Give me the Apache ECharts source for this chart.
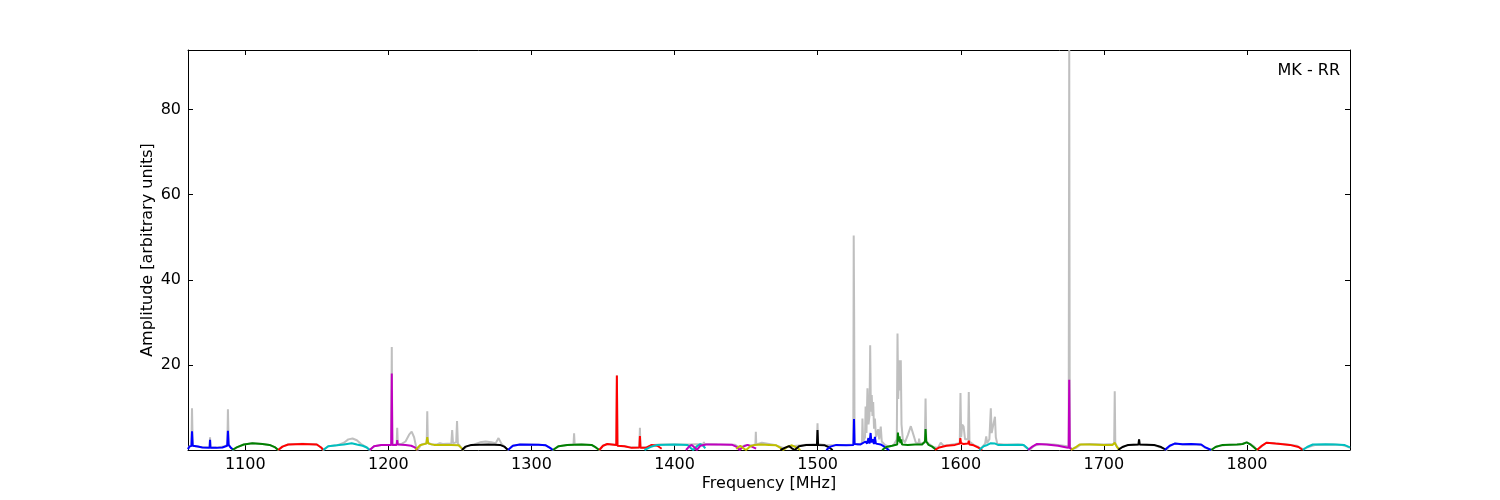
<!DOCTYPE html>
<html>
<head>
<meta charset="utf-8">
<script src="https://cdn.jsdelivr.net/npm/echarts@6/dist/echarts.min.js"></script>
<style>html,body{margin:0;padding:0;background:#fff;}#c{width:1500px;height:500px;}</style>
</head>
<body>
<div id="c"></div>
<script>
// ---- data (frequency MHz, amplitude) ----
const xTicks = [1100, 1200, 1300, 1400, 1500, 1600, 1700, 1800];
const yTicks = [20, 40, 60, 80];
const segColors = ['#0000ff', '#008000', '#ff0000', '#00bfbf', '#bf00bf', '#bfbf00', '#000000'];

const raw = [
[1060,0.3],[1061,0.9],[1062.4,1.0],[1062.8,9.8],[1063.3,1.0],[1068,0.7],[1075.1,0.6],[1075.4,3.0],[1075.7,0.6],[1080,0.6],[1085,0.8],[1087.5,1.2],[1087.9,9.6],[1088.4,1.2],[1090,0.5],[1091.5,0],
[1094,0.6],[1099,1.3],[1105,1.6],[1112,1.4],[1117,1.2],[1121,0.6],[1123,0],
[1126,0.8],[1130,1.3],[1140,1.45],[1150,1.3],[1153,0.6],[1154.5,0],
[1158,0.9],[1164,1.1],[1169,1.7],[1172,2.5],[1175,2.7],[1178,2.3],[1181,1.4],[1184,0.8],[1187,0],
[1190,0.9],[1195,1.2],[1202.0,1.2],[1202.4,24.2],[1202.8,1.3],[1205.8,1.3],[1206.2,5.2],[1206.6,1.4],[1209,1.4],[1212,2.0],[1214.5,3.6],[1216.3,4.3],[1218,3.0],[1219.5,0.6],[1220.5,0],
[1223,1.3],[1226.8,1.6],[1227.2,9.1],[1227.6,1.8],[1230,1.3],[1234,1.3],[1236,1.6],[1238,1.4],[1244,1.5],[1244.6,4.7],[1245.2,1.6],[1247.4,1.8],[1248,6.8],[1248.6,1.5],[1250,1.0],[1252,0],
[1255,0.9],[1260,1.3],[1264,1.8],[1268,2.0],[1272,1.8],[1275,1.6],[1277,2.8],[1279,1.5],[1281,0.8],[1283.6,0],
[1287,1.0],[1292,1.3],[1305,1.25],[1310,1.1],[1313,0.5],[1315,0],
[1319,0.9],[1325,1.2],[1329.4,1.3],[1329.8,3.9],[1330.2,1.3],[1335,1.3],[1342,1.2],[1345,0.6],[1347.4,0],
[1350,1.0],[1353,1.4],[1359.3,1.2],[1359.7,17.5],[1360.1,1.0],[1365,0.9],[1370,0.6],[1375.4,0.6],[1375.8,5.2],[1376.2,0.6],[1380,0.6],[1385,1.2],[1390,1.3],[1400,1.3],[1410,1.3],[1420.2,1.4],[1420.5,1.9],[1420.8,1.4],[1430,1.3],[1442,1.25],[1446,0.5],[1449,1.1],[1455,1.2],[1456.5,1.3],[1456.8,4.3],[1457.1,1.3],[1461,1.7],[1470,1.2],[1476,0.5],[1482,0.9],[1490,1.2],[1499.5,1.4],[1499.9,6.3],[1500.3,1.4],[1505,1.2],[1510,1.1],[1515,1.1],[1520,1.2],[1524.9,1.3],[1525.2,50.4],[1525.5,31.7],[1525.8,1.5],[1528,1.3],[1531,1.6],[1531.3,7.4],[1531.8,2.0],[1533.1,3.0],[1533.5,10.2],[1534.1,4.0],[1534.8,14.5],[1535.5,6.0],[1536.2,8.0],[1536.7,24.6],[1537.2,9.0],[1537.8,12.9],[1538.3,8.0],[1538.8,11.3],[1539.4,5.0],[1540,7.4],[1540.8,3.0],[1542.3,4.9],[1543,2.5],[1544.1,5.5],[1544.8,2.0],[1547,1.2],[1550,0.8],[1553,1.1],[1555.3,2.5],[1555.8,27.4],[1556.3,12.0],[1557,21.1],[1557.5,14.0],[1558.1,21.1],[1558.6,6.0],[1559.5,2.5],[1561,1.8],[1563,3.5],[1565.1,5.6],[1567,3.5],[1568.5,1.8],[1570.5,1.5],[1570.9,2.7],[1571.3,1.5],[1574.9,1.7],[1575.4,12.1],[1575.9,2.0],[1578,1.4],[1581,0.7],[1584,0.5],[1586,1.7],[1588,1.0],[1592,1.2],[1599.3,1.6],[1599.8,13.4],[1600.3,3.0],[1601,6.0],[1602,5.5],[1603,2.5],[1605.1,2.5],[1605.6,13.6],[1606.1,2.0],[1609,1.2],[1612,0.8],[1614,0.3],[1617,1.5],[1617.8,3.2],[1618.4,1.6],[1620,2.5],[1621,9.8],[1621.6,4.0],[1622.5,5.5],[1623.9,7.8],[1624.5,3.0],[1625.5,1.5],[1630,1.3],[1638,1.3],[1643,1.3],[1645,0.8],[1648,0],
[1651,0.9],[1655,1.4],[1665,1.3],[1672,1.0],[1675.4,0.8],[1675.8,94],[1676.2,0.6],[1678,0.2],
[1681,0.6],[1684,1.3],[1690,1.4],[1700,1.3],[1707.2,1.4],[1707.6,13.8],[1708,1.6],[1710,0.3],[1711,0],
[1714,0.8],[1718,1.2],[1724.3,1.3],[1724.6,2.5],[1724.9,1.3],[1735,1.1],[1740,0.6],[1743.7,0],
[1746,0.9],[1749.5,1.5],[1755,1.3],[1761,1.35],[1768,1.2],[1771,0.5],[1775,0],
[1779,0.9],[1785,1.2],[1795,1.3],[1799.8,1.8],[1803,1.3],[1805,0.8],[1807,0],
[1810,0.8],[1813.6,1.7],[1825,1.4],[1835,1.0],[1839,0.2],[1840,0],
[1844,0.8],[1848,1.2],[1860,1.3],[1866,1.2],[1870,0.8],[1872,0.5]
];

const seg01 = [[1060,0.2],[1061,0.8],[1062.4,1.0],[1062.8,4.4],[1063.3,1.0],[1067,0.8],[1070,0.6],[1075.1,0.5],[1075.4,2.4],[1075.7,0.5],[1080,0.5],[1084,0.6],[1087.4,1.0],[1087.9,4.5],[1088.4,1.2],[1090,0.5],[1092,0]];
const seg02 = [[1091,0],[1094,0.6],[1099,1.3],[1105,1.6],[1112,1.4],[1117,1.2],[1121,0.6],[1123,0]];
const seg03 = [[1123,0],[1126,0.8],[1130,1.3],[1140,1.4],[1150,1.3],[1153,0.6],[1154.5,0]];
const seg04 = [[1154.5,0],[1158,0.9],[1164,1.1],[1169,1.3],[1174.4,1.6],[1178,1.3],[1182,1.0],[1185,0.6],[1187,0]];
const seg05 = [[1187,0],[1190,0.9],[1195,1.2],[1202.0,1.2],[1202.4,18.0],[1202.8,1.2],[1205.8,1.2],[1206.2,2.3],[1206.6,1.3],[1212,1.2],[1216,1.0],[1218.5,0.6],[1220.5,0]];
const seg06 = [[1219,0],[1222,1.1],[1226.5,1.5],[1227.2,3.0],[1227.9,1.5],[1232,1.2],[1244,1.2],[1249,1.1],[1251,0.5],[1252.5,0]];
const seg07 = [[1251.4,0],[1254,0.8],[1258,1.2],[1270,1.3],[1278,1.2],[1281,0.8],[1283.6,0]];
const seg08 = [[1283.6,0],[1287,1.0],[1292,1.3],[1305,1.25],[1310,1.1],[1313,0.5],[1315,0]];
const seg09 = [[1315,0],[1319,0.9],[1325,1.2],[1335,1.3],[1342,1.2],[1345,0.6],[1347.4,0]];
const seg10 = [[1347.4,0],[1350,1.0],[1353,1.4],[1359.3,1.2],[1359.7,17.5],[1360.1,1.0],[1365,0.9],[1370,0.5],[1375.4,0.6],[1375.8,3.3],[1376.2,0.5],[1380,0.5],[1384,1.2],[1388,1.0],[1391,0.3]];
const seg11 = [[1379,0],[1383,0.7],[1388,1.2],[1400,1.3],[1409,1.2],[1411.5,0.4],[1413,0],[1416,1.0],[1418,1.4],[1420,1.0],[1421.5,0.4]];
const seg12 = [[1408,0],[1410.5,0.9],[1412,1.2],[1414,0.6],[1415.5,0],[1418,1.0],[1422,1.3],[1432,1.3],[1440,1.25],[1443,0.8],[1445.5,0],[1448,0.8],[1451,1.2],[1454,0.8],[1457,0.3]];
const seg13 = [[1443,0.3],[1446,1.0],[1448.5,0.3],[1450,0],[1453,0.9],[1456,1.2],[1460.5,1.3],[1461,1.7],[1461.5,1.3],[1466,1.2],[1471,1.1],[1474,0.5],[1476,0],[1479,0.8],[1482,1.1],[1485,0.6],[1488,0]];
const seg14 = [[1474,0],[1477,0.5],[1480,0.9],[1482,0.4],[1484,0],[1487,0.9],[1492,1.2],[1499.5,1.2],[1499.9,4.7],[1500.3,1.2],[1505,1.1],[1508,0.6],[1510.5,0]];
const seg15 = [[1506,0],[1509,0.8],[1513,1.2],[1520,1.1],[1525.0,1.2],[1525.4,7.3],[1525.8,1.4],[1530,1.3],[1533.5,2.0],[1534.5,1.5],[1535.5,2.8],[1536.2,1.5],[1537,4.0],[1537.6,1.8],[1538.5,2.5],[1539.3,1.4],[1540,3.1],[1540.7,1.5],[1542,1.6],[1544,1.3],[1546,0.9],[1548,0.4],[1550,0]];
const seg16 = [[1545,0],[1548,0.7],[1552,1.0],[1555.6,1.3],[1556.1,4.1],[1556.6,2.0],[1557.2,3.2],[1557.8,1.6],[1558.4,2.5],[1559,1.3],[1563,1.2],[1568,1.3],[1573,1.3],[1575,2.0],[1575.4,4.9],[1575.9,2.0],[1577.5,1.2],[1580,0.8],[1583,0]];
const seg17 = [[1582,0],[1585,0.6],[1590,1.0],[1596,1.2],[1599.3,1.5],[1599.7,2.8],[1600.2,1.6],[1602,1.4],[1605.1,1.5],[1605.6,2.2],[1606,1.3],[1609,1.1],[1612,0.6],[1615,0]];
const seg18 = [[1613,0],[1616,0.9],[1618,1.1],[1621,1.6],[1622,1.2],[1624,1.5],[1626,1.2],[1632,1.2],[1640,1.25],[1644,1.2],[1646,0.6],[1648,0]];
const seg19 = [[1647,0],[1650,0.8],[1653,1.4],[1660,1.3],[1668,1.0],[1674,0.6],[1675.4,0.5],[1675.8,16.5],[1676.2,0.5],[1677,0.2],[1678,0]];
const seg20 = [[1677,0],[1680,0.6],[1683,1.3],[1690,1.3],[1700,1.2],[1706,1.2],[1707.6,1.7],[1709,0.8],[1711,0]];
const seg21 = [[1710,0],[1713,0.7],[1717,1.2],[1724.2,1.3],[1724.6,2.5],[1725,1.3],[1735,1.2],[1740,0.7],[1743.7,0]];
const seg22 = [[1742.5,0],[1746,1.0],[1749.5,1.5],[1755,1.35],[1761,1.4],[1761.5,1.6],[1762,1.4],[1768,1.3],[1771,0.6],[1775,0]];
const seg23 = [[1775,0],[1778,0.7],[1783,1.2],[1793,1.3],[1797,1.4],[1799.8,1.8],[1802,1.4],[1805,0.6],[1807,0]];
const seg24 = [[1807,0],[1810,0.9],[1813.6,1.7],[1820,1.5],[1830,1.2],[1836,0.7],[1839,0]];
const seg25 = [[1839,0],[1842,0.7],[1846,1.3],[1855,1.35],[1862,1.3],[1868,1.2],[1872,0.6]];

const segments = [seg01,seg02,seg03,seg04,seg05,seg06,seg07,seg08,seg09,seg10,seg11,seg12,seg13,seg14,seg15,seg16,seg17,seg18,seg19,seg20,seg21,seg22,seg23,seg24,seg25];

const X_MIN = 1060, X_MAX = 1872, Y_MIN = 0, Y_MAX = 94;
const FONT = 'DejaVu Sans';

const chart = echarts.init(document.getElementById('c'), null, {renderer: 'canvas'});

const series = [{
  type: 'line', data: raw, showSymbol: false, symbol: 'none', animation: false,
  lineStyle: {color: '#bfbfbf', width: 2}, z: 1, silent: true, clip: true
}];
segments.forEach((s, i) => {
  series.push({
    type: 'line', data: s, showSymbol: false, symbol: 'none', animation: false,
    lineStyle: {color: segColors[i % segColors.length], width: 2}, z: 2, silent: true, clip: true
  });
});

const axisLineStyle = {show: true, onZero: false, lineStyle: {color: '#000', width: 1}};
const tickStyle = {inside: true, length: 5, lineStyle: {color: '#000', width: 1}};
const plain = v => String(v);

chart.setOption({
  animation: false,
  backgroundColor: '#ffffff',
  title: {
    text: 'MK - RR', right: 160, top: 63, padding: 0,
    textStyle: {fontFamily: FONT, fontSize: 16, fontWeight: 'normal', color: '#000'}
  },
  grid: {left: 188, right: 150, top: 50, bottom: 50, containLabel: false, outerBoundsMode: 'none'},
  xAxis: [{
    type: 'value', min: X_MIN, max: X_MAX, position: 'bottom',
    name: 'Frequency [MHz]', nameLocation: 'middle', nameGap: 26, nameMoveOverlap: false,
    nameTextStyle: {fontFamily: FONT, fontSize: 16, color: '#000'},
    axisLine: axisLineStyle,
    axisTick: Object.assign({customValues: xTicks}, tickStyle),
    axisLabel: {customValues: xTicks, formatter: plain, fontFamily: FONT, fontSize: 16, color: '#000', margin: 7},
    splitLine: {show: false}
  }, {
    type: 'value', min: X_MIN, max: X_MAX, position: 'top',
    axisLine: axisLineStyle,
    axisTick: Object.assign({customValues: xTicks}, tickStyle),
    axisLabel: {show: false},
    splitLine: {show: false}
  }],
  yAxis: [{
    type: 'value', min: Y_MIN, max: Y_MAX, position: 'left',
    name: 'Amplitude [arbitrary units]', nameLocation: 'middle', nameGap: 32, nameRotate: 90, nameMoveOverlap: false,
    nameTextStyle: {fontFamily: FONT, fontSize: 16, color: '#000'},
    axisLine: axisLineStyle,
    axisTick: Object.assign({customValues: yTicks}, tickStyle),
    axisLabel: {customValues: yTicks, formatter: plain, fontFamily: FONT, fontSize: 16, color: '#000', margin: 7},
    splitLine: {show: false}
  }, {
    type: 'value', min: Y_MIN, max: Y_MAX, position: 'right',
    axisLine: axisLineStyle,
    axisTick: Object.assign({customValues: yTicks}, tickStyle),
    axisLabel: {show: false},
    splitLine: {show: false}
  }],
  series: series
});
</script>
</body>
</html>
